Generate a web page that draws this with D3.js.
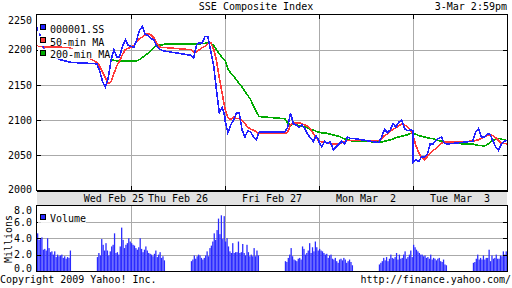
<!DOCTYPE html>
<html>
<head>
<meta charset="utf-8">
<script src="https://cdn.jsdelivr.net/npm/d3@7"></script>
<style>
body { margin: 0; background: #fff; }
svg text { font-family: "DejaVu Sans Mono", monospace; font-size: 10px; fill: #000; white-space: pre; }
</style>
</head>
<body>
<svg id="chart" width="512" height="288"></svg>
<script>
let title = 'SSE Composite Index'
let stamp = '3-Mar 2:59pm'
let days = ['Wed Feb 25', 'Thu Feb 26', 'Fri Feb 27', 'Mon Mar  2', 'Tue Mar  3']
let dayLabelMinute = [270, 165, 165, 165, 165]
let priceTicks = [2000, 2050, 2100, 2150, 2200, 2250]
let volumeTicks = [0, 2, 4, 6, 8]
let seriesNames = ['000001.SS', '50-min MA', '200-min MA']
let seriesColors = ['#2020ff', '#ff3838', '#00aa00']

// 10-minute samples, 13 for the morning session and 13 for the afternoon, per day
let indexPrice = [
  2232, 2222, 2205, 2198, 2195, 2192, 2190, 2188, 2186, 2185, 2184, 2183, 2182,
  2180, 2170, 2155, 2147, 2160, 2185, 2200, 2190, 2190, 2205, 2214, 2206, 2205,
  2205, 2203, 2214, 2228, 2233, 2222, 2220, 2216, 2214, 2205, 2201, 2199, 2198,
  2192, 2188, 2207, 2210, 2209, 2219, 2218, 2198, 2178, 2143, 2110, 2118, 2105,
  2100, 2082, 2093, 2100, 2110, 2110, 2086, 2076, 2085, 2083, 2076, 2072, 2083,
  2083, 2090, 2110, 2095, 2093, 2090, 2093, 2088, 2080, 2075, 2070, 2078, 2070,
  2068, 2062, 2070, 2067, 2069, 2058, 2062, 2066, 2070, 2066, 2076, 2074, 2074,
  2068, 2076, 2087, 2082, 2086, 2095, 2090, 2097, 2100, 2088, 2085, 2086, 2085,
  2040, 2044, 2041, 2048, 2048, 2051, 2066, 2066, 2071, 2074, 2076, 2067, 2066,
  2070, 2083, 2088, 2076, 2076, 2080, 2080, 2071, 2062, 2057, 2066, 2070, 2071
]
let ma50 = [
  2206, 2205, 2204, 2204, 2204, 2204, 2204, 2204, 2204, 2203, 2203, 2203, 2202,
  2182, 2177, 2168, 2160, 2152, 2155, 2166, 2177, 2184, 2193, 2200, 2202, 2204,
  2204, 2206, 2211, 2216, 2218, 2221, 2223, 2221, 2217, 2210, 2204, 2203, 2203,
  2200, 2197, 2197, 2200, 2203, 2205, 2209, 2210, 2201, 2185, 2160, 2138, 2116,
  2116, 2104, 2101, 2104, 2102, 2102, 2099, 2095, 2090, 2087, 2086, 2083, 2081,
  2081, 2083, 2093, 2096, 2096, 2096, 2095, 2093, 2091, 2087, 2081, 2075, 2070,
  2070, 2069, 2069, 2067, 2067, 2066, 2066, 2067, 2068, 2069, 2071, 2071, 2071,
  2071, 2074, 2078, 2080, 2084, 2087, 2089, 2092, 2094, 2093, 2091, 2086, 2078,
  2078, 2064, 2054, 2047, 2044, 2048, 2053, 2057, 2059, 2063, 2067, 2069, 2069,
  2070, 2071, 2072, 2074, 2076, 2078, 2079, 2078, 2075, 2071, 2067, 2067, 2066
]
let ma200 = [
  2190, 2190, 2190, 2189, 2189, 2189, 2189, 2189, 2189, 2189, 2189, 2189, 2188,
  2188, 2188, 2187, 2187, 2186, 2185, 2185, 2184, 2184, 2184, 2184, 2184, 2184,
  2184, 2184, 2184, 2186, 2189, 2192, 2195, 2199, 2203, 2206, 2207, 2207, 2208,
  2208, 2208, 2208, 2208, 2209, 2209, 2210, 2209, 2206, 2200, 2194, 2189, 2185,
  2185, 2173, 2167, 2163, 2157, 2152, 2147, 2141, 2135, 2129, 2120, 2112, 2105,
  2102, 2096, 2093, 2094, 2094, 2092, 2091, 2090, 2089, 2087, 2086, 2084, 2083,
  2083, 2082, 2082, 2081, 2080, 2079, 2078, 2077, 2075, 2073, 2072, 2071, 2070,
  2069, 2069, 2070, 2071, 2072, 2073, 2075, 2076, 2077, 2078, 2079, 2081, 2082,
  2081, 2080, 2078, 2077, 2076, 2075, 2074, 2074, 2072, 2071, 2070, 2068, 2067,
  2066, 2065, 2064, 2064, 2063, 2065, 2068, 2071, 2073, 2074, 2073, 2072, 2071
]
// millions, 5-minute bars, 24 per session
let volume = [
  4.6,3.8,4.0,4.1,2.6,2.7,2.5,4.0,2.8,2.3,2.4,2.0,2.4,1.7,2.0,1.8,1.9,2.0,1.6,1.8,1.5,1.7,1.6,2.5,
  1.7,2.2,1.9,3.9,3.2,2.5,3.4,2.5,1.9,2.4,3.0,3.2,4.6,2.2,2.3,2.0,3.0,5.3,3.8,2.8,3.2,3.4,4.0,3.6,
  3.4,3.2,3.1,2.8,2.6,2.9,4.0,2.7,2.3,2.6,3.0,2.5,2.2,2.1,2.0,1.8,2.1,2.5,1.7,2.0,2.3,1.6,1.8,1.3,
  1.2,1.4,1.9,1.5,1.8,2.0,1.9,1.6,1.4,1.6,1.9,2.4,1.8,2.8,3.1,3.6,4.6,3.8,5.0,6.4,4.5,6.8,3.9,6.7,
  3.6,4.0,3.0,2.4,2.2,3.4,2.2,2.3,2.3,3.6,2.2,2.3,3.3,2.2,1.9,3.2,2.3,1.8,2.0,1.8,2.8,1.8,2.5,1.9,
  1.2,1.1,1.6,2.0,2.8,1.8,1.4,1.3,1.2,1.5,1.6,1.4,3.0,2.7,2.0,2.2,2.5,3.4,2.2,2.9,2.4,3.6,2.9,2.5,
  2.7,2.5,2.4,2.2,2.0,2.1,1.6,1.9,2.0,1.5,1.4,1.6,1.2,1.0,1.4,1.5,1.3,1.6,1.4,1.0,1.2,1.4,1.1,0.7,
  0.8,1.0,1.2,1.6,1.3,1.7,1.2,1.5,2.0,1.6,1.5,1.7,2.2,1.4,2.0,1.5,1.6,2.0,2.4,1.5,1.7,2.0,2.5,1.7,
  3.2,2.9,2.6,2.4,2.2,2.0,2.0,1.8,1.9,1.6,1.7,1.5,2.0,1.4,1.6,1.5,1.3,1.5,1.6,1.2,1.1,1.4,0.8,0.7,
  1.0,1.1,1.5,2.0,1.4,1.6,1.4,1.9,1.4,1.6,1.6,2.6,1.2,1.9,1.5,1.6,2.0,1.5,1.5,1.9,1.8,2.4,2.0,2.4
]

let left = 37
let right = 507
let priceTop = 14.5
let priceBottom = 190.5
let stripBottom = 205.5
let volTop = 205.5
let volBottom = 271
let dayLength = 330   // 9:30 to 15:00 in minutes
let gridColor = '#aaaaaa'

// minute offsets of samples in the session (lunch 11:30-13:00 stays on the axis)
let lineTime = (i) => {
  let d = Math.floor(i / 26), k = i % 26
  return d * dayLength + (k < 13 ? k * 10 : 210 + (k - 13) * 10)
}
let barTime = (i) => {
  let d = Math.floor(i / 48), k = i % 48
  return d * dayLength + (k < 24 ? k * 5 : 210 + (k - 24) * 5)
}

let xScale = d3.scaleLinear().domain([0, days.length * dayLength]).range([left, right])
let yScale = d3.scaleLinear().domain([2000, 2250]).range([priceBottom, priceTop])
let vScale = d3.scaleLinear().domain([0, 8]).range([volBottom, volTop])

let svg = d3.select('#chart')
let dayEdges = d3.range(1, days.length).map(d => d * dayLength)

// ---- price panel grid
let grid = svg.append('g').attr('stroke', gridColor).attr('shape-rendering', 'crispEdges')
grid.selectAll('.hgrid').data(priceTicks.slice(1, -1)).enter().append('line')
  .attr('x1', left).attr('x2', right)
  .attr('y1', d => Math.round(yScale(d)) + 0.5).attr('y2', d => Math.round(yScale(d)) + 0.5)
grid.selectAll('.vgrid').data(dayEdges).enter().append('line')
  .attr('x1', d => Math.round(xScale(d)) + 0.5).attr('x2', d => Math.round(xScale(d)) + 0.5)
  .attr('y1', priceTop).attr('y2', priceBottom)

// ---- volume panel grid
grid.selectAll('.vhgrid').data(volumeTicks.slice(1, -1)).enter().append('line')
  .attr('x1', left).attr('x2', right)
  .attr('y1', d => Math.round(vScale(d)) + 0.5).attr('y2', d => Math.round(vScale(d)) + 0.5)
grid.selectAll('.vvgrid').data(dayEdges).enter().append('line')
  .attr('x1', d => Math.round(xScale(d)) + 0.5).attr('x2', d => Math.round(xScale(d)) + 0.5)
  .attr('y1', volTop).attr('y2', volBottom)

// ---- volume bars
let barStep = xScale(5) - xScale(0)
svg.append('g').selectAll('rect').data(volume).enter().append('rect')
  .attr('x', (d, i) => xScale(barTime(i)))
  .attr('width', barStep * 0.9)
  .attr('y', d => vScale(d))
  .attr('height', d => volBottom - vScale(d))
  .attr('fill', '#2a2aff')

// ---- price lines
let seriesData = [indexPrice, ma50, ma200]
;[2, 1, 0].forEach(s => {
  let data = seriesData[s]
  let from = s === 2 ? 18 : 0   // 200-min MA shows from mid afternoon of day one
  svg.append('path')
    .datum(data.map((v, i) => [i, v]).slice(from))
    .attr('fill', 'none')
    .attr('stroke', seriesColors[s])
    .attr('stroke-width', 1.6)
    .attr('shape-rendering', 'crispEdges')
    .attr('d', d3.line().x(d => xScale(lineTime(d[0]))).y(d => yScale(d[1])))
})

// ---- date strip
svg.append('rect')
  .attr('x', left).attr('y', priceBottom + 1)
  .attr('width', right - left).attr('height', stripBottom - priceBottom - 1)
  .attr('fill', '#e2e2e2')
svg.append('g').selectAll('text').data(days).enter().append('text')
  .attr('x', (d, i) => xScale(i * dayLength + dayLabelMinute[i]))
  .attr('y', 202.3)
  .attr('text-anchor', 'middle')
  .text(d => d)

// ---- frames and ticks
let frame = svg.append('g').attr('stroke', '#000').attr('fill', 'none').attr('shape-rendering', 'crispEdges')
frame.append('rect').attr('x', left - 0.5).attr('y', priceTop).attr('width', right - left + 1).attr('height', priceBottom - priceTop)
frame.append('line').attr('x1', left - 0.5).attr('x2', right + 0.5).attr('y1', priceBottom + 0.5).attr('y2', priceBottom + 0.5).attr('stroke-width', 2)
frame.append('line').attr('x1', left - 0.5).attr('x2', right + 0.5).attr('y1', stripBottom).attr('y2', stripBottom).attr('stroke', '#555')
frame.append('rect').attr('x', left - 0.5).attr('y', volTop).attr('width', right - left + 1).attr('height', volBottom - volTop + 0.5)
frame.selectAll('.ptick').data(priceTicks.slice(1, -1)).enter().append('path')
  .attr('d', d => {
    let y = Math.round(yScale(d)) + 0.5
    return `M${left},${y}h4M${right - 4},${y}h4`
  })
frame.selectAll('.dtick').data(dayEdges).enter().append('path')
  .attr('d', d => {
    let x = Math.round(xScale(d)) + 0.5
    return `M${x},${priceTop}v4M${x},${priceBottom}v-5`
  })
frame.selectAll('.vtick').data(volumeTicks.slice(1, -1)).enter().append('path')
  .attr('d', d => {
    let y = Math.round(vScale(d)) + 0.5
    return `M${left},${y}h4M${right - 4},${y}h4`
  })

// ---- axis labels
let priceAxis = svg.append('g')
  .attr('transform', `translate(${left},0)`)
  .call(d3.axisLeft(yScale).tickValues(priceTicks).tickSize(0).tickPadding(5).tickFormat(d3.format('d')))
priceAxis.select('.domain').remove()
priceAxis.selectAll('text')
  .attr('font-family', '"DejaVu Sans Mono", monospace').attr('font-size', 10)
  .attr('dy', d => d === 2250 ? '0.88em' : (d === 2000 ? '0.22em' : '0.32em'))

let volAxis = svg.append('g')
  .attr('transform', `translate(${left},0)`)
  .call(d3.axisLeft(vScale).tickValues(volumeTicks).tickSize(0).tickPadding(5).tickFormat(d3.format('.1f')))
volAxis.select('.domain').remove()
volAxis.selectAll('text')
  .attr('font-family', '"DejaVu Sans Mono", monospace').attr('font-size', 10)
  .attr('dy', d => d === 8 ? '0.78em' : (d === 0 ? '0.02em' : '0.32em'))

svg.append('text')
  .attr('transform', 'translate(11.5,239) rotate(-90)')
  .attr('text-anchor', 'middle')
  .text('Millions')

// ---- legends
let legend = (names, colors, baseY) => {
  names.forEach((name, i) => {
    let y = baseY + i * 12.8
    svg.append('rect').attr('x', 38).attr('y', y - 9.5)
      .attr('width', 12 + name.length * 6).attr('height', 10).attr('fill', '#fff')
    svg.append('rect').attr('x', 40.5).attr('y', y - 8).attr('width', 5).attr('height', 5)
      .attr('fill', colors[i]).attr('stroke', '#000').attr('shape-rendering', 'crispEdges')
    svg.append('text').attr('x', 50).attr('y', y).text(name)
  })
}
legend(seriesNames, seriesColors, 32.7)
legend(['Volume'], ['#2a2aff'], 222.3)

// ---- titles and footer
svg.append('text').attr('x', 256).attr('y', 10).attr('text-anchor', 'middle').text(title)
svg.append('text').attr('x', 507).attr('y', 10).attr('text-anchor', 'end').text(stamp)
svg.append('text').attr('x', 0).attr('y', 283).text('Copyright 2009 Yahoo! Inc.')
svg.append('text').attr('x', 511).attr('y', 283).attr('text-anchor', 'end').text('http://finance.yahoo.com/')
</script>
</body>
</html>
